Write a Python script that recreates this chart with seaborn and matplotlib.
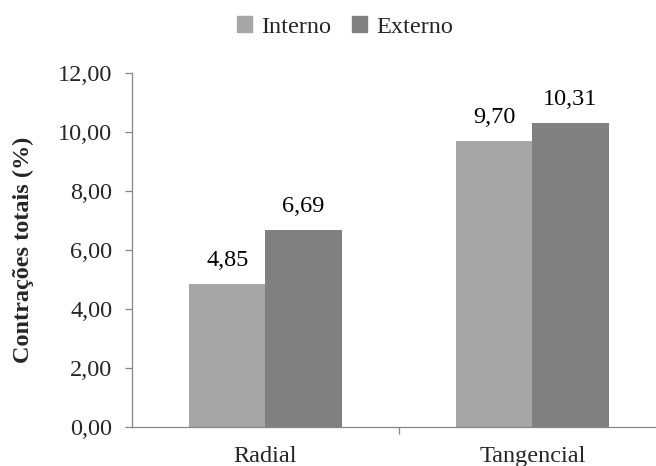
import matplotlib
matplotlib.use("Agg")
import matplotlib.pyplot as plt
import seaborn as sns
import pandas as pd
from matplotlib.ticker import FixedLocator

# dados
categorias = ["Radial", "Tangencial"]
grupos = ["Interno", "Externo"]
interno = [4.85, 9.70]
externo = [6.69, 10.31]
cores = ["#A6A6A6", "#808080"]
yticks = [0, 2, 4, 6, 8, 10, 12]

df = pd.DataFrame({
    "categoria": categorias * 2,
    "grupo": [grupos[0]] * 2 + [grupos[1]] * 2,
    "valor": interno + externo,
})

sns.set_theme(style="white")
plt.rcParams['font.family'] = ['Liberation Serif', 'DejaVu Serif']

fs = 17.5
fig = plt.figure(figsize=(6.56, 4.66), dpi=100)
ax = fig.add_axes([0.201, 0.0837, 0.799, 0.760])

sns.barplot(data=df, x="categoria", y="valor", hue="grupo", order=categorias,
            hue_order=grupos, palette=cores, width=0.57, saturation=1,
            edgecolor="none", linewidth=0, ax=ax)

for cont in ax.containers:
    labels = [f"{v:.2f}".replace(".", ",") for v in cont.datavalues]
    ax.bar_label(cont, labels=labels, padding=9, fontsize=fs, color="#000000")

ax.set_ylim(0, 12)
ax.set_yticks(yticks)
ax.set_yticklabels([f"{v:.2f}".replace(".", ",") for v in yticks])
ax.set_xlim(-0.5, 1.4625)

ax.tick_params(axis="y", which="major", length=5, width=0.9, color="#868686",
               labelsize=fs, pad=9, left=True)
ax.tick_params(axis="x", which="major", length=0, labelsize=fs, pad=14)
ax.xaxis.set_minor_locator(FixedLocator([0.5]))
ax.tick_params(axis="x", which="minor", length=5, width=0.9, color="#868686", bottom=True)

ax.set_xlabel("")
ax.set_ylabel("Contrações totais (%)", fontsize=fs, fontweight="bold", labelpad=17)

for s in ["top", "right"]:
    ax.spines[s].set_visible(False)
for s in ["left", "bottom"]:
    ax.spines[s].set_color("#868686")
    ax.spines[s].set_linewidth(0.9)

ax.get_legend().remove()
handles = [plt.Rectangle((0, 0), 1, 1, color=c) for c in cores]
fig.legend(handles, grupos, loc="center", bbox_to_anchor=(0.526, 0.942), ncol=2,
           frameon=False, fontsize=fs, handlelength=0.6, handleheight=0.6,
           handletextpad=0.4, columnspacing=0.85, borderpad=0)

fig.savefig("out.png", dpi=100)
